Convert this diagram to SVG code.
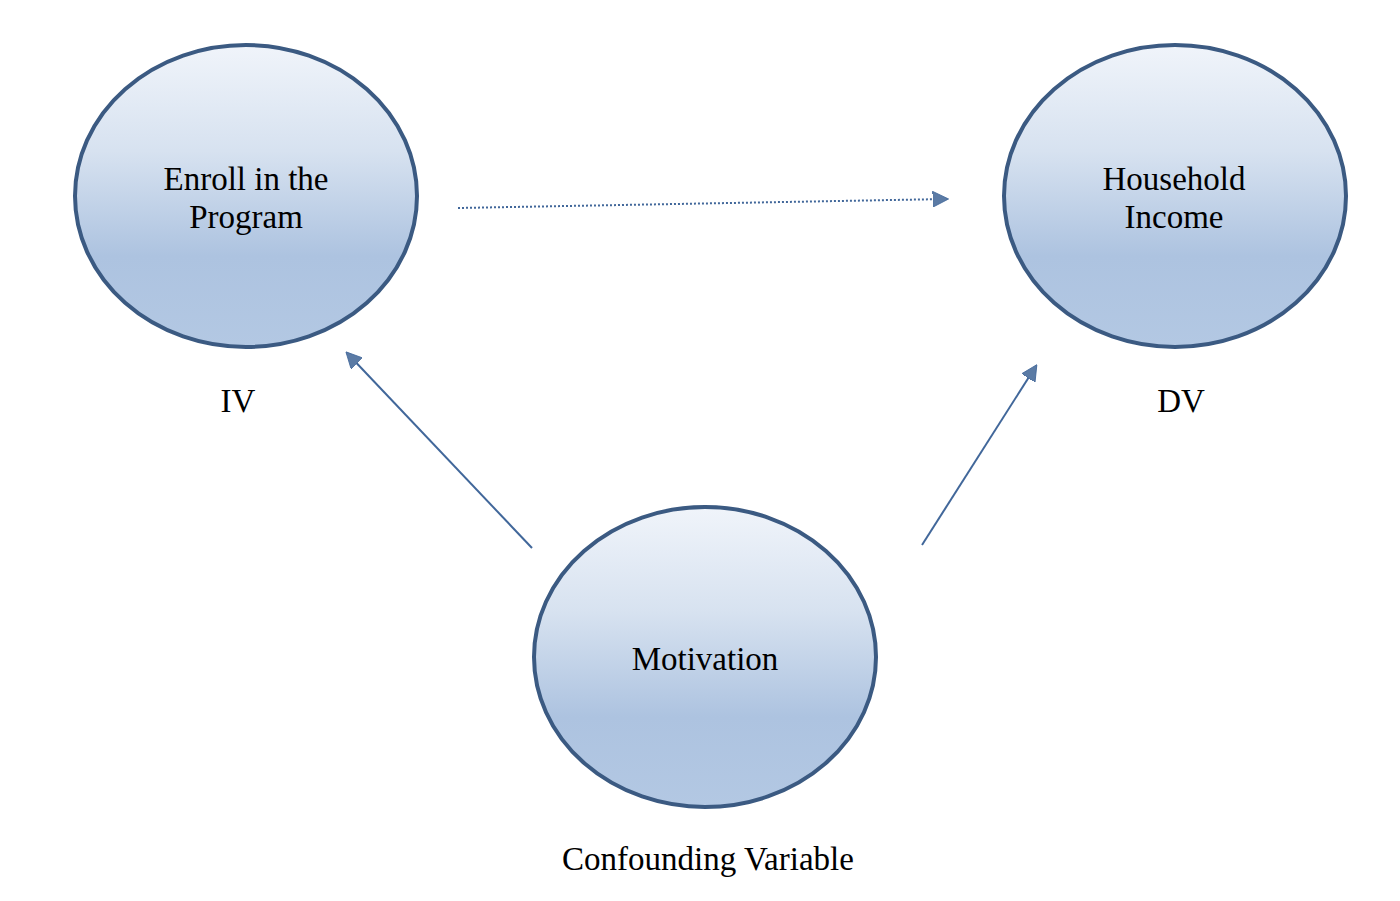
<svg xmlns="http://www.w3.org/2000/svg" width="1400" height="901" viewBox="0 0 1400 901">
<style>
.node{stroke:#3b5a82;stroke-width:4;fill:url(#g)}
.t{font-family:"Liberation Serif",serif;font-size:33px;fill:#000;text-anchor:middle}
.c{stroke:#41679a;stroke-width:2;fill:none}
</style>
<defs>
<linearGradient id="g" x1="0" y1="0" x2="0" y2="1">
<stop offset="0" stop-color="#f0f4fa"/>
<stop offset="0.35" stop-color="#d7e2f0"/>
<stop offset="0.7" stop-color="#adc3e0"/>
<stop offset="1" stop-color="#b3c8e3"/>
</linearGradient>
<marker id="a" viewBox="0 0 10 10" refX="9" refY="5" markerWidth="16" markerHeight="16" markerUnits="userSpaceOnUse" orient="auto">
<path d="M0,0 L10,5 L0,10 z" fill="#5b7ba5" stroke="#41679a" stroke-width="0.5"/>
</marker>
</defs>
<rect width="1400" height="901" fill="#fff"/>
<g id="connectors">
<line class="c" x1="458" y1="208" x2="947" y2="199" stroke-dasharray="2,2" marker-end="url(#a)"/>
<line class="c" x1="532" y1="548" x2="347" y2="353" marker-end="url(#a)"/>
<line class="c" x1="922" y1="545" x2="1036" y2="366" marker-end="url(#a)"/>
</g>
<g id="enroll">
<ellipse class="node" cx="246" cy="196" rx="171" ry="151"/>
<text class="t" x="246" y="190">Enroll in the</text>
<text class="t" x="246" y="228">Program</text>
</g>
<g id="income">
<ellipse class="node" cx="1175" cy="196" rx="171" ry="151"/>
<text class="t" x="1174" y="190">Household</text>
<text class="t" x="1174" y="228">Income</text>
</g>
<g id="motivation">
<ellipse class="node" cx="705" cy="657" rx="171" ry="150"/>
<text class="t" x="705" y="670">Motivation</text>
</g>
<g id="labels">
<text class="t" x="238" y="412">IV</text>
<text class="t" x="1181" y="412">DV</text>
<text class="t" x="708" y="870">Confounding Variable</text>
</g>
</svg>
